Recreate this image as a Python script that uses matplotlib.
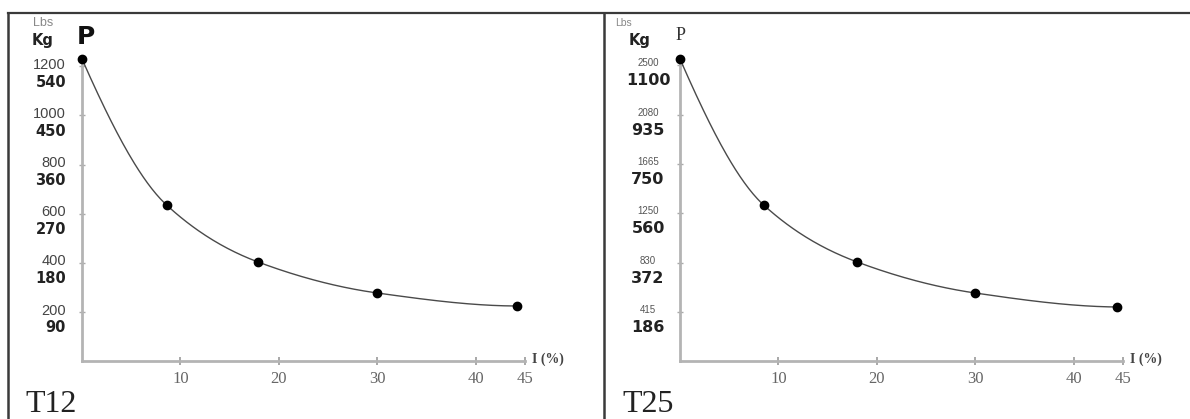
import numpy as np
import matplotlib
matplotlib.use("Agg")
import matplotlib.pyplot as plt
from matplotlib.lines import Line2D

# chart data (lbs on the axis, kg shown underneath)
i_pct_t12 = [0, 8.6, 17.9, 30, 44.2]
p_lbs_t12 = [1230, 635, 403, 277, 224]
ytick_lbs_t12 = [1200, 1000, 800, 600, 400, 200]
ytick_kg_t12 = [540, 450, 360, 270, 180, 90]

i_pct_t25 = [0, 8.5, 18, 30, 44.4]
p_lbs_t25 = [2550, 1317, 836, 574, 456]
ytick_lbs_t25 = [2500, 2080, 1665, 1250, 830, 415]
ytick_kg_t25 = [1100, 935, 750, 560, 372, 186]

xticks = [10, 20, 30, 40, 45]
panel_names = ["T12", "T25"]

W, H = 1190, 419


def fx(x):
    return x / W


def fy(y):
    return 1 - y / H


def pchip(x, y, xs):
    # monotone cubic for the smooth line through the points
    x = np.asarray(x, float)
    y = np.asarray(y, float)
    h = np.diff(x)
    d = np.diff(y) / h
    n = len(x)
    m = np.zeros(n)
    for k in range(1, n - 1):
        if d[k - 1] * d[k] > 0:
            w1 = 2 * h[k] + h[k - 1]
            w2 = h[k] + 2 * h[k - 1]
            m[k] = (w1 + w2) / (w1 / d[k - 1] + w2 / d[k])
    m[0] = ((2 * h[0] + h[1]) * d[0] - h[0] * d[1]) / (h[0] + h[1])
    if np.sign(m[0]) != np.sign(d[0]):
        m[0] = 0
    m[-1] = ((2 * h[-1] + h[-2]) * d[-1] - h[-1] * d[-2]) / (h[-1] + h[-2])
    if np.sign(m[-1]) != np.sign(d[-1]):
        m[-1] = 0
    idx = np.clip(np.searchsorted(x, xs) - 1, 0, n - 2)
    t = (xs - x[idx]) / h[idx]
    h00 = 2 * t**3 - 3 * t**2 + 1
    h10 = t**3 - 2 * t**2 + t
    h01 = -2 * t**3 + 3 * t**2
    h11 = t**3 - t**2
    return (h00 * y[idx] + h10 * h[idx] * m[idx]
            + h01 * y[idx + 1] + h11 * h[idx] * m[idx + 1])


fig = plt.figure(figsize=(W / 100, H / 100), dpi=100)

# panel frame lines
frame_col = "#3a3a3a"
fig.add_artist(Line2D([fx(8), fx(1190)], [fy(13), fy(13)], color=frame_col, lw=1.6))
fig.add_artist(Line2D([fx(8), fx(8)], [fy(13), fy(419)], color=frame_col, lw=1.8))
fig.add_artist(Line2D([fx(604), fx(604)], [fy(13), fy(419)], color=frame_col, lw=1.8))

panels = [
    dict(x0=82, xs=i_pct_t12, ys=p_lbs_t12, lbs=ytick_lbs_t12, kg=ytick_kg_t12,
         name=panel_names[0], name_x=25),
    dict(x0=680, xs=i_pct_t25, ys=p_lbs_t25, lbs=ytick_lbs_t25, kg=ytick_kg_t25,
         name=panel_names[1], name_x=622),
]

axis_col = "#b4b4b4"

for k, p in enumerate(panels):
    ax = fig.add_axes([fx(p["x0"]), fy(361), 443 / W, 302 / H])
    ax.set_xlim(0, 45)
    ax.set_ylim(0, max(p["ys"]))
    ax.patch.set_alpha(0)
    for s in ["top", "right"]:
        ax.spines[s].set_visible(False)
    for s in ["left", "bottom"]:
        ax.spines[s].set_color(axis_col)
        ax.spines[s].set_linewidth(2)

    # smooth curve + points
    xx = np.linspace(p["xs"][0], p["xs"][-1], 300)
    ax.plot(xx, pchip(p["xs"], p["ys"], xx), color="#4a4a4a", lw=1.0, clip_on=False)
    ax.plot(p["xs"], p["ys"], "o", color="black", ms=6, clip_on=False, zorder=5)

    # x ticks
    ax.set_xticks(xticks)
    ax.set_xticklabels([str(v) for v in xticks], family="Liberation Serif",
                       fontsize=12, color="#666666")
    ax.tick_params(axis="x", direction="inout", length=6, width=1.2,
                   color="#999999", pad=4)

    # y ticks: lbs on top, kg bold underneath
    ax.set_yticks(p["lbs"])
    ax.set_yticklabels([])
    ax.tick_params(axis="y", direction="inout", length=5, width=1, color="#aaaaaa")
    for lb, kg in zip(p["lbs"], p["kg"]):
        if k == 0:
            ax.annotate(str(lb), xy=(0, lb), xycoords=("axes fraction", "data"),
                        xytext=(-11.5, 1), textcoords="offset points",
                        ha="right", va="center", family="Liberation Sans",
                        fontsize=10.5, color="#444444", annotation_clip=False)
            ax.annotate(str(kg), xy=(0, lb), xycoords=("axes fraction", "data"),
                        xytext=(-11.5, -11.5), textcoords="offset points",
                        ha="right", va="center", family="DejaVu Sans",
                        fontweight="bold", fontsize=10.5, color="#222222",
                        annotation_clip=False)
        else:
            ax.annotate(str(lb), xy=(0, lb), xycoords=("axes fraction", "data"),
                        xytext=(-23, 1.5), textcoords="offset points",
                        ha="center", va="center", family="Liberation Sans",
                        fontsize=7, color="#555555", annotation_clip=False)
            ax.annotate(str(kg), xy=(0, lb), xycoords=("axes fraction", "data"),
                        xytext=(-23, -11.5), textcoords="offset points",
                        ha="center", va="center", family="DejaVu Sans",
                        fontweight="bold", fontsize=11.5, color="#222222",
                        annotation_clip=False)

    # axis title on x
    ax.annotate("I (%)", xy=(45, 0), xycoords="data", xytext=(5, 1.5),
                textcoords="offset points", ha="left", va="center",
                family="Liberation Serif", fontweight="bold", fontsize=10,
                color="#444444", annotation_clip=False)

    # panel name
    fig.text(fx(p["name_x"]), fy(418.5), p["name"], family="Liberation Serif",
             fontsize=23, color="#222222", ha="left", va="bottom")

# unit headers and P labels
fig.text(fx(43), fy(23), "Lbs", family="Liberation Sans", fontsize=9,
         color="#888888", ha="center", va="center")
fig.text(fx(43), fy(40), "Kg", family="DejaVu Sans", fontweight="bold",
         fontsize=10.5, color="#222222", ha="center", va="center")
fig.text(fx(86), fy(37), "P", family="DejaVu Sans", fontweight="bold",
         fontsize=18, color="#111111", ha="center", va="center")

fig.text(fx(624), fy(23), "Lbs", family="Liberation Sans", fontsize=7.5,
         color="#888888", ha="center", va="center")
fig.text(fx(640), fy(40), "Kg", family="DejaVu Sans", fontweight="bold",
         fontsize=10.5, color="#222222", ha="center", va="center")
fig.text(fx(681), fy(35), "P", family="Liberation Serif", fontsize=13,
         color="#333333", ha="center", va="center")

fig.savefig("out.png", dpi=100, facecolor="white")
